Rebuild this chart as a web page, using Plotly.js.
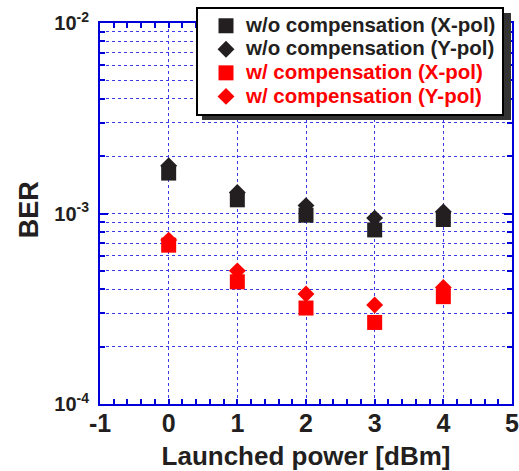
<!DOCTYPE html>
<html>
<head>
<meta charset="utf-8">
<script src="https://cdn.plot.ly/plotly-3.0.1.min.js"></script>
<style>html,body{margin:0;padding:0;background:#fff;}#chart{width:519px;height:471px;}</style>
</head>
<body>
<div id="chart"></div>
<script>
// Launched power [dBm]
const powers = [0, 1, 2, 3, 4];
// BER values
const woCompX = [1.63e-3, 1.18e-3, 0.98e-3, 0.82e-3, 0.93e-3];
const woCompY = [1.78e-3, 1.29e-3, 1.10e-3, 0.946e-3, 1.02e-3];
const wCompX  = [6.82e-4, 4.38e-4, 3.19e-4, 2.68e-4, 3.66e-4];
const wCompY  = [7.25e-4, 5.0e-4, 3.78e-4, 3.31e-4, 4.09e-4];

const seriesNames = [
  'w/o compensation (X-pol)',
  'w/o compensation (Y-pol)',
  'w/ compensation (X-pol)',
  'w/ compensation (Y-pol)'
];

const xTicks = [-1, 0, 1, 2, 3, 4, 5];
const yMajor = [1e-4, 1e-3, 1e-2];
const yMajorText = ['10<sup>-4</sup>', '10<sup>-3</sup>', '10<sup>-2</sup>'];
const yMinor = [2e-4,3e-4,4e-4,5e-4,6e-4,7e-4,8e-4,9e-4,2e-3,3e-3,4e-3,5e-3,6e-3,7e-3,8e-3,9e-3];

const BLACK = '#231f20';
const RED = '#ff0000';
const BLUE = '#0000d8';
const GRID = '#3a3ae8';

const traces = [
  {x: powers, y: woCompY, name: seriesNames[1], color: BLACK, symbol: 'diamond', size: 13, legendrank: 2},
  {x: powers, y: woCompX, name: seriesNames[0], color: BLACK, symbol: 'square', size: 15, legendrank: 1},
  {x: powers, y: wCompY, name: seriesNames[3], color: RED, symbol: 'diamond', size: 13, legendrank: 4},
  {x: powers, y: wCompX, name: seriesNames[2], color: RED, symbol: 'square', size: 15, legendrank: 3}
].map(t => ({
  x: t.x, y: t.y, type: 'scatter', mode: 'markers',
  name: '<span style="font-size:20.5px;color:' + t.color + '">' + t.name + '</span>',
  legendrank: t.legendrank,
  marker: {color: t.color, symbol: t.symbol, size: t.size, line: {width: 0}}
}));

// plot area pixel geometry
const L = 100, R = 7, T = 23, B = 67, W = 519, H = 471;
const pw = W - L - R, ph = H - T - B;
const px = v => (v - L) / pw;
const py = v => (H - B - v) / ph;

const layout = {
  width: W, height: H,
  margin: {l: L, r: R, t: T, b: B, pad: 0, autoexpand: false},
  paper_bgcolor: '#fff', plot_bgcolor: '#fff',
  font: {family: 'Liberation Sans, Arial, sans-serif', color: BLACK},
  showlegend: true,
  legend: {
    x: px(196), y: py(7), xanchor: 'left', yanchor: 'top',
    bgcolor: '#fff', bordercolor: '#000', borderwidth: 2,
    font: {size: 15.8, color: BLACK, weight: 'bold'},
    traceorder: 'normal',
    indentation: 8,
    itemsizing: 'trace'
  },
  xaxis: {
    type: 'linear', range: [-1, 5],
    tickmode: 'array', tickvals: xTicks, ticktext: xTicks.map(String),
    ticks: 'inside', ticklen: 5, tickwidth: 2, tickcolor: BLUE,
    showline: true, linecolor: BLUE, linewidth: 2, mirror: 'ticks',
    showgrid: true, gridcolor: GRID, gridwidth: 1, griddash: 'dot',
    zeroline: false,
    tickfont: {size: 25, color: BLACK, weight: 'bold'},
    ticklabelstandoff: -4,
    ticklabeloverflow: 'allow',
    minor: {dtick: 0.2, ticks: 'inside', ticklen: 5, tickwidth: 2, tickcolor: BLUE, showgrid: false},
    title: {text: 'Launched power [dBm]', font: {size: 26, color: BLACK, weight: 'bold'}, standoff: 16}
  },
  yaxis: {
    type: 'log', range: [-4, -2],
    tickmode: 'array', tickvals: yMajor, ticktext: yMajorText,
    ticks: 'inside', ticklen: 8, tickwidth: 2, tickcolor: BLUE,
    showline: true, linecolor: BLUE, linewidth: 2, mirror: 'ticks',
    showgrid: true, gridcolor: GRID, gridwidth: 1, griddash: 'dot',
    zeroline: false,
    tickfont: {size: 20, color: BLACK, weight: 'bold'},
    ticklabelstandoff: 5,
    minor: {tickmode: 'array', tickvals: yMinor, ticks: 'inside', ticklen: 5, tickwidth: 2, tickcolor: BLUE,
            showgrid: true, gridcolor: GRID, gridwidth: 1, griddash: 'dot'},
    title: {text: '&nbsp;BER', font: {size: 27, color: BLACK, weight: 'bold'}, standoff: 8}
  },
  shapes: [{
    type: 'rect', xref: 'paper', yref: 'paper', layer: 'above',
    x0: px(202), x1: px(511), y0: py(120), y1: py(13),
    fillcolor: '#333', line: {width: 0}
  }]
};

Plotly.newPlot('chart', traces, layout, {displayModeBar: false, staticPlot: true});
</script>
</body>
</html>
